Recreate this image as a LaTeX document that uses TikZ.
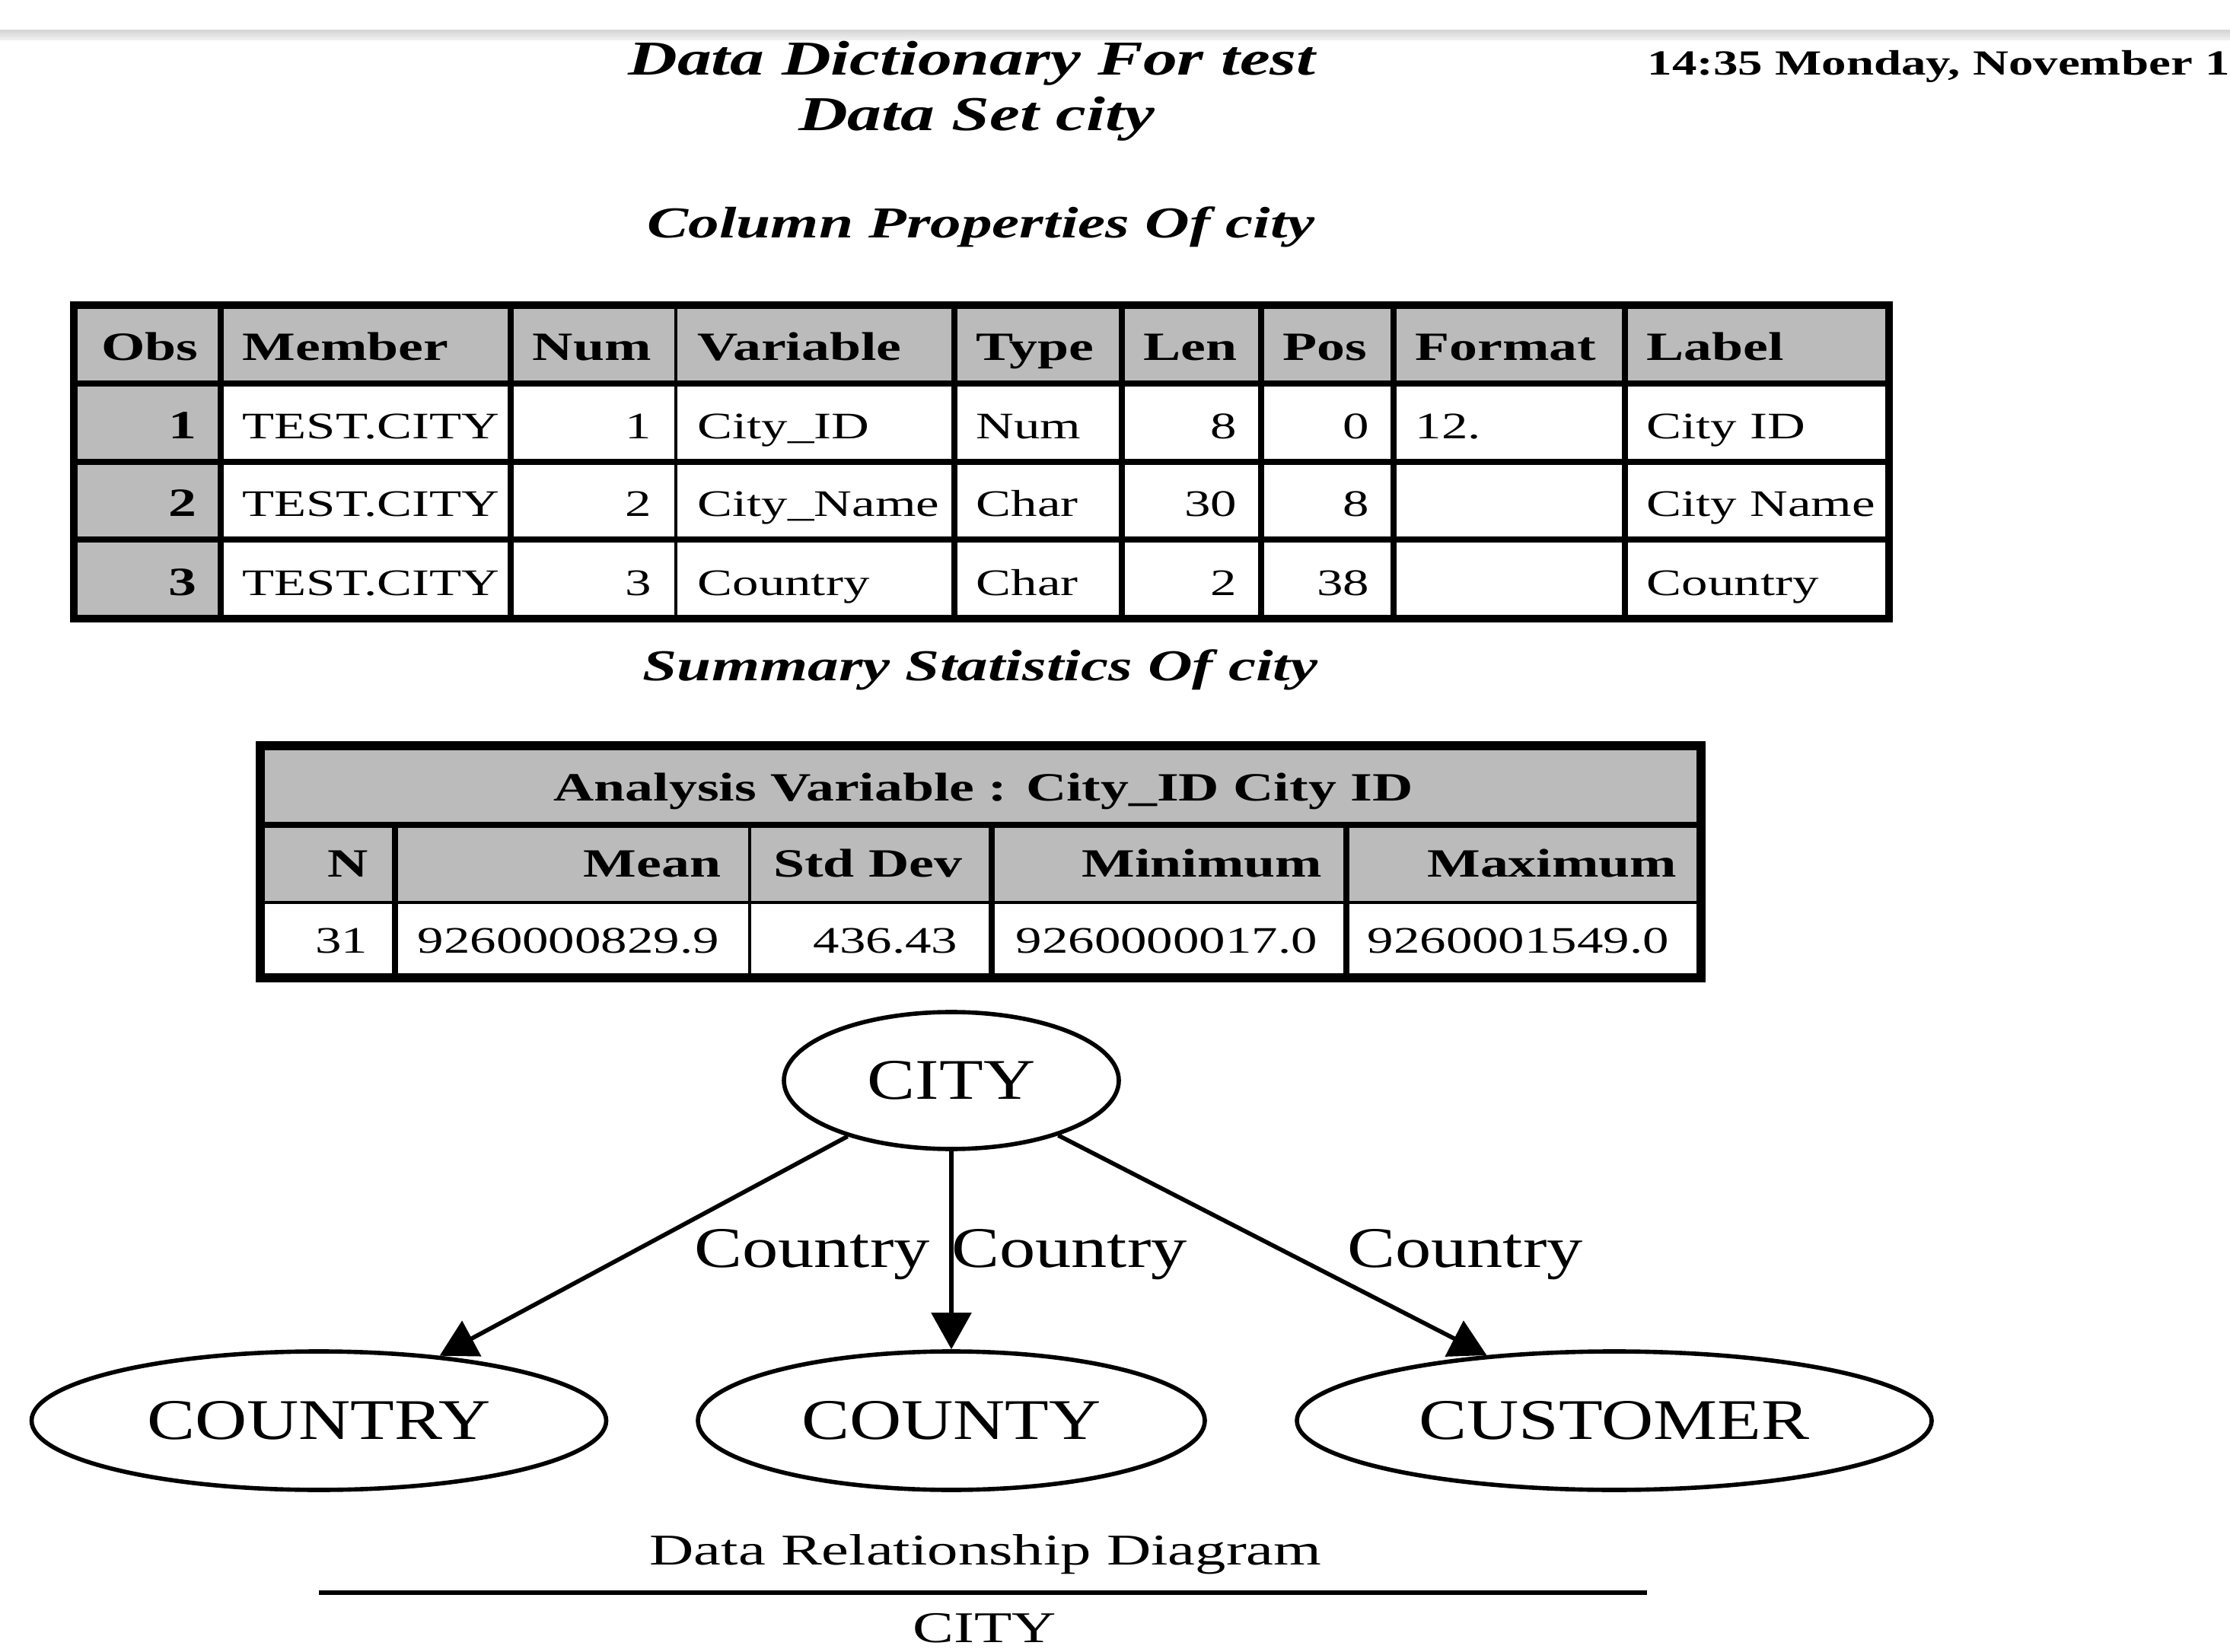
\documentclass[tikz,border=0pt]{standalone}
\usepackage{fontspec}
\setmainfont{Liberation Serif}[FakeStretch=1.4]
\newfontfamily\graphfont{Liberation Serif}[FakeStretch=1.25]
\usetikzlibrary{shapes.geometric,arrows.meta}
\definecolor{hdrgray}{RGB}{187,187,187}
\tikzset{
  hdrfill/.style={fill=hdrgray},
  gridthick/.style={line width=2.3pt, draw=black, line cap=rect},
  gridthin/.style={line width=1.0pt, draw=black, line cap=rect},
  frame/.style={line width=2.6pt, draw=black},
  framebig/.style={line width=3.4pt, draw=black},
  celltext/.style={font=\fontsize{14.0}{17}\selectfont, inner sep=0pt},
  cellhead/.style={font=\fontsize{15.0}{18}\selectfont\bfseries, inner sep=0pt},
  titletext/.style={font=\fontsize{18.2}{21}\selectfont\bfseries\itshape, inner sep=0pt, anchor=base},
  subtitle/.style={font=\fontsize{16.5}{19}\selectfont\bfseries\itshape, inner sep=0pt, anchor=base},
  stamp/.style={font=\fontsize{13.2}{16}\selectfont\bfseries, inner sep=0pt, anchor=base west},
  entity/.style={ellipse, draw=black, line width=1.6pt, inner sep=0pt, minimum height=1.82cm, font=\graphfont\fontsize{21.5}{24}\selectfont},
  link/.style={-{Triangle[length=0.48cm, width=0.52cm]}, line width=1.6pt, draw=black},
  linklabel/.style={font=\graphfont\fontsize{21.5}{24}\selectfont, inner sep=0pt, anchor=base},
  caption/.style={font=\fontsize{16.4}{19}\selectfont, inner sep=0pt, anchor=base},
}

\begin{document}
\begin{tikzpicture}
\useasboundingbox (0,0) rectangle (29.30,21.70);
\shade[top color=black!16, bottom color=black!5] (0,21.30) rectangle (29.30,21.17);
\node[titletext] (title) at (12.77,20.71) {Data Dictionary For test};
\node[titletext] (dataset) at (12.83,19.98) {Data Set city};
\node[stamp] (stamp) at (21.64,20.71) {14:35 Monday, November 1};
\node[subtitle] (colprops) at (12.89,18.57) {Column Properties Of city};
\fill[hdrfill] (0.97,17.69) rectangle (24.82,16.66);
\fill[hdrfill] (0.97,16.66) rectangle (2.90,13.57);
\draw[gridthick] (0.97,16.66) -- (24.82,16.66);
\draw[gridthick] (0.97,15.63) -- (24.82,15.63);
\draw[gridthick] (0.97,14.61) -- (24.82,14.61);
\draw[gridthick] (2.90,17.69) -- (2.90,13.57);
\draw[gridthick] (6.71,17.69) -- (6.71,13.57);
\draw[gridthin] (8.88,17.69) -- (8.88,13.57);
\draw[gridthick] (12.54,17.69) -- (12.54,13.57);
\draw[gridthick] (14.74,17.69) -- (14.74,13.57);
\draw[gridthick] (16.57,17.69) -- (16.57,13.57);
\draw[gridthick] (18.31,17.69) -- (18.31,13.57);
\draw[gridthick] (21.35,17.69) -- (21.35,13.57);
\draw[frame] (0.97,17.69) rectangle (24.82,13.57);
\node[cellhead, anchor=base east] (hobs) at (2.61,16.96) {Obs};
\node[cellhead, anchor=base west] (hmember) at (3.18,16.96) {Member};
\node[cellhead, anchor=base west] (hnum) at (6.99,16.96) {Num};
\node[cellhead, anchor=base west] (hvariable) at (9.16,16.96) {Variable};
\node[cellhead, anchor=base west] (htype) at (12.82,16.96) {Type};
\node[cellhead, anchor=base west] (hlen) at (15.02,16.96) {Len};
\node[cellhead, anchor=base west] (hpos) at (16.85,16.96) {Pos};
\node[cellhead, anchor=base west] (hformat) at (18.59,16.96) {Format};
\node[cellhead, anchor=base west] (hlabel) at (21.63,16.96) {Label};
\node[cellhead, anchor=base east] (obsa) at (2.59,15.93) {1};
\node[celltext, anchor=base west] (membera) at (3.18,15.93) {TEST.CITY};
\node[celltext, anchor=base east] (numa) at (8.57,15.93) {1};
\node[celltext, anchor=base west] (variablea) at (9.16,15.93) {City\_ID};
\node[celltext, anchor=base west] (typea) at (12.82,15.93) {Num};
\node[celltext, anchor=base east] (lena) at (16.26,15.93) {8};
\node[celltext, anchor=base east] (posa) at (18.00,15.93) {0};
\node[celltext, anchor=base west] (formata) at (18.59,15.93) {12.};
\node[celltext, anchor=base west] (labela) at (21.63,15.93) {City ID};
\node[cellhead, anchor=base east] (obsb) at (2.59,14.91) {2};
\node[celltext, anchor=base west] (memberb) at (3.18,14.91) {TEST.CITY};
\node[celltext, anchor=base east] (numb) at (8.57,14.91) {2};
\node[celltext, anchor=base west] (variableb) at (9.16,14.91) {City\_Name};
\node[celltext, anchor=base west] (typeb) at (12.82,14.91) {Char};
\node[celltext, anchor=base east] (lenb) at (16.26,14.91) {30};
\node[celltext, anchor=base east] (posb) at (18.00,14.91) {8};
\node[celltext, anchor=base west] (labelb) at (21.63,14.91) {City Name};
\node[cellhead, anchor=base east] (obsc) at (2.59,13.87) {3};
\node[celltext, anchor=base west] (memberc) at (3.18,13.87) {TEST.CITY};
\node[celltext, anchor=base east] (numc) at (8.57,13.87) {3};
\node[celltext, anchor=base west] (variablec) at (9.16,13.87) {Country};
\node[celltext, anchor=base west] (typec) at (12.82,13.87) {Char};
\node[celltext, anchor=base east] (lenc) at (16.26,13.87) {2};
\node[celltext, anchor=base east] (posc) at (18.00,13.87) {38};
\node[celltext, anchor=base west] (labelc) at (21.63,13.87) {Country};
\node[subtitle] (sumstats) at (12.88,12.75) {Summary Statistics Of city};
\fill[hdrfill] (3.42,11.90) rectangle (22.35,9.84);
\draw[gridthick] (3.42,10.86) -- (22.35,10.86);
\draw[gridthin] (3.42,9.84) -- (22.35,9.84);
\draw[gridthick] (5.19,10.86) -- (5.19,8.85);
\draw[gridthin] (9.85,10.86) -- (9.85,8.85);
\draw[gridthick] (13.03,10.86) -- (13.03,8.85);
\draw[gridthick] (17.69,10.86) -- (17.69,8.85);
\draw[framebig] (3.42,11.90) rectangle (22.35,8.85);
\node[cellhead, anchor=base] (analysis) at (12.92,11.17) {Analysis Variable : City\_ID City ID};
\node[cellhead, anchor=base east] (hn) at (4.84,10.17) {N};
\node[cellhead, anchor=base east] (hmean) at (9.48,10.17) {Mean};
\node[cellhead, anchor=base east] (hstd) at (12.65,10.17) {Std Dev};
\node[cellhead, anchor=base east] (hmin) at (17.38,10.17) {Minimum};
\node[cellhead, anchor=base east] (hmax) at (22.04,10.17) {Maximum};
\node[celltext, anchor=base east] (vn) at (4.84,9.17) {31};
\node[celltext, anchor=base west] (vmean) at (5.48,9.17) {9260000829.9};
\node[celltext, anchor=base east] (vstd) at (12.59,9.17) {436.43};
\node[celltext, anchor=base west] (vmin) at (13.34,9.17) {9260000017.0};
\node[celltext, anchor=base west] (vmax) at (17.96,9.17) {9260001549.0};
\node[entity, minimum width=4.40cm, minimum height=1.80cm] (city) at (12.50,7.50) {CITY};
\node[entity, minimum width=7.55cm] (country) at (4.19,3.03) {COUNTRY};
\node[entity, minimum width=6.66cm] (county) at (12.50,3.03) {COUNTY};
\node[entity, minimum width=8.34cm] (customer) at (21.21,3.03) {CUSTOMER};
\draw[link] (city) -- (country);
\draw[link] (city) -- (county);
\draw[link] (city) -- (customer);
\node[linklabel] (lblcountry) at (10.67,5.05) {Country};
\node[linklabel] (lblcounty) at (14.05,5.05) {Country};
\node[linklabel] (lblcustomer) at (19.25,5.05) {Country};
\node[caption] (drd) at (12.95,1.14) {Data Relationship Diagram};
\draw[line width=1.7pt] (4.19,0.77) -- (21.64,0.77);
\node[caption] (footer) at (12.94,0.12) {CITY};
\end{tikzpicture}
\end{document}
